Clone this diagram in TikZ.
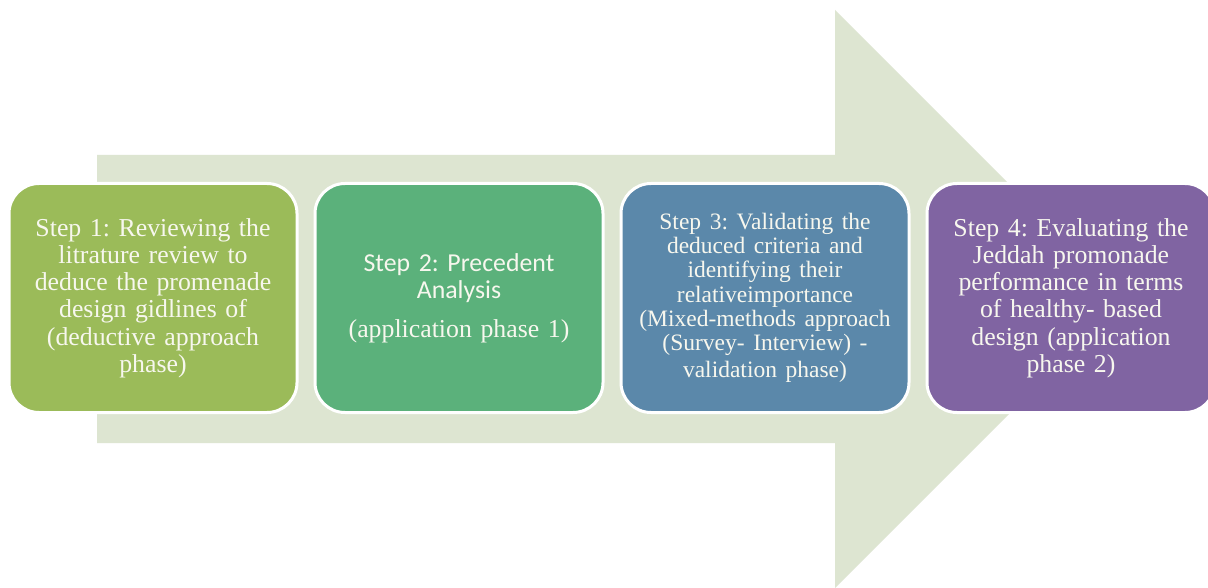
\documentclass[tikz,border=0pt]{standalone}
\usepackage{fontspec}
\setmainfont{Liberation Serif}
\newfontfamily\calibri{Carlito}
\definecolor{arrowfill}{HTML}{DDE5D1}
\definecolor{stepone}{HTML}{9BBB59}
\definecolor{steptwo}{HTML}{5BB17B}
\definecolor{stepthree}{HTML}{5B88AA}
\definecolor{stepfour}{HTML}{8064A2}
\definecolor{steptext}{HTML}{F7F7EE}
\begin{document}
\begin{tikzpicture}[x=1pt,y=-1pt,
  stepbox/.style={draw=white, line width=3pt, rounded corners=30pt,
    minimum width=288pt, minimum height=229pt, text width=280pt,
    align=center, text=steptext, inner sep=0pt,
    font=\frenchspacing\fontsize{25.8}{27.2}\selectfont}]
\useasboundingbox (0,0) rectangle (1208,588);
\fill[white] (0,0) rectangle (1208,588);
% big background arrow
\fill[arrowfill] (97,155) -- (835,155) -- (835,10) -- (1124,299)
  -- (835,588) -- (835,443) -- (97,443) -- cycle;
% the four steps
\node[stepbox, fill=stepone] (s1) at (153,298)
  {Step 1: Reviewing the\\ litrature review to\\ deduce the promenade\\ design gidlines of\\ (deductive approach\\ phase)};
\node[stepbox, fill=steptwo] (s2) at (459,298)
  {{\calibri Step 2: Precedent\\ Analysis}\\[12pt] (application phase 1)};
\node[stepbox, fill=stepthree] (s3) at (765,298)
  {\fontsize{23.5}{24.2}\selectfont Step 3: Validating the\\ deduced criteria and\\ identifying their\\ relativeimportance\\ (Mixed-methods approach\\ (Survey- Interview) -\\ validation phase)};
\node[stepbox, fill=stepfour] (s4) at (1071,298)
  {Step 4: Evaluating the\\ Jeddah promonade\\ performance in terms\\ of healthy- based\\ design (application\\ phase 2)};
\end{tikzpicture}
\end{document}
